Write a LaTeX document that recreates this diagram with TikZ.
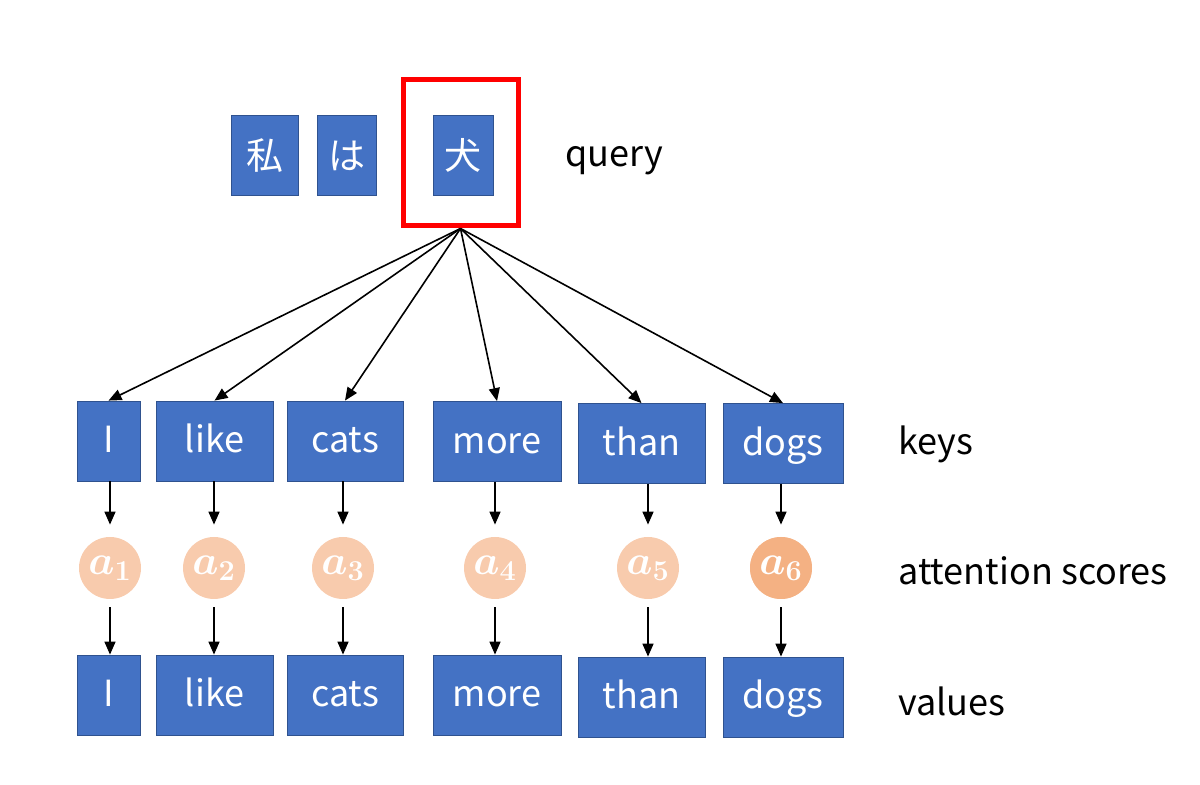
\documentclass[tikz,border=0pt]{standalone}
\usepackage{fontspec}
\setmainfont{Noto Sans CJK JP}
\usetikzlibrary{arrows.meta,positioning}
\definecolor{tokblue}{HTML}{4472C4}
\definecolor{tokedge}{HTML}{2F528F}
\definecolor{scorepale}{HTML}{F8CBAD}
\definecolor{scorehigh}{HTML}{F4B183}
\definecolor{qred}{HTML}{FF0000}

\begin{document}
\begin{tikzpicture}[x=0.5pt,y=-0.5pt,>={Triangle[length=6.5pt,width=5.5pt]},
 tok/.style={draw=tokedge,fill=tokblue,text=white,minimum height=40pt,inner sep=0pt,text height=13pt,text depth=1pt,font=\fontsize{18}{20}\selectfont},
 jtok/.style={tok,text height=15pt,text depth=0.7pt,font=\fontsize{18.5}{20}\selectfont},
 score/.style={circle,fill=scorepale,text=white,minimum size=31pt,inner sep=0pt,font=\fontsize{21}{24}\selectfont\boldmath},
 lab/.style={anchor=west,inner sep=0pt,font=\fontsize{18}{20}\selectfont},
 ar/.style={->,thick}]
 \useasboundingbox (0,0) rectangle (1200,785);
 % query
 \node[jtok,minimum width=33.5pt] (q1) at (264.5,155) {私};
 \node[jtok,minimum width=29.5pt] (q2) at (346.5,155) {は};
 \node[jtok,minimum width=30pt] (q3) at (463,155) {犬};
 \node[draw=qred,line width=2.5pt,minimum width=57.5pt,minimum height=73pt] (qframe) at (460.5,153) {};
 \node[lab] (ql) at (565,161) {query};
 % keys, scores, values
 \foreach \n/\x/\w/\t/\ky/\sx/\vy in {1/108.5/63/I/441/110/695,
   2/214.5/117/like/441/214/695,
   3/345/116/cats/441/343/695,
   4/497/128/more/441.5/495/695,
   5/641.5/127/than/443.5/648/697,
   6/783/120/dogs/443.5/781/697}{
  \node[tok,minimum width={\w*0.5pt}] (k\n) at (\x,\ky) {\t};
  \node[score] (s\n) at (\sx,568) {$a_{\n}$};
  \node[tok,minimum width={\w*0.5pt}] (v\n) at (\x,\vy) {\t};
  \draw[ar] (qframe.south) -- (k\n.north);
  \draw[ar,shorten >=6pt] (s\n |- k\n.south) -- (s\n.north);
  \draw[ar,shorten <=4pt] (s\n.south) -- (s\n |- v\n.north);
 }
 \node[score,fill=scorehigh] at (s6) {$a_{6}$};
 \node[lab] (kl) at (898,444) {keys};
 \node[lab] (sl) at (898,571) {attention scores};
 \node[lab] (vl) at (898,701) {values};
\end{tikzpicture}
\end{document}
